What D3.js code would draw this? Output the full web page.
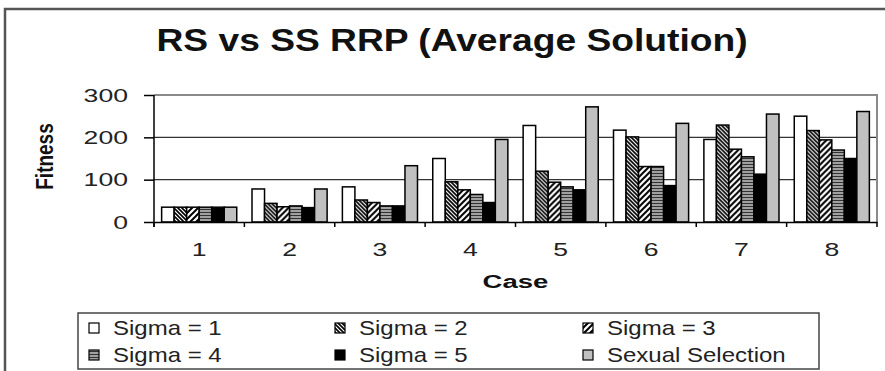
<!DOCTYPE html>
<html>
<head>
<meta charset="utf-8">
<script src="https://cdn.jsdelivr.net/npm/d3@7"></script>
<style>
  body { margin: 0; background: #fff; }
  svg { display: block; font-family: "Liberation Sans", Arial, sans-serif; }
</style>
</head>
<body>
<div id="chart"></div>
<script>
const cases = ["1", "2", "3", "4", "5", "6", "7", "8"];
const seriesNames = ["Sigma = 1", "Sigma = 2", "Sigma = 3", "Sigma = 4", "Sigma = 5", "Sexual Selection"];
const sigma1 = [35, 78, 83, 150, 228, 217, 195, 250];
const sigma2 = [35, 44, 52, 95, 120, 201, 229, 216];
const sigma3 = [35, 36, 46, 76, 94, 131, 172, 194];
const sigma4 = [35, 38, 38, 65, 83, 131, 154, 170];
const sigma5 = [35, 34, 38, 46, 76, 86, 113, 150];
const sexualSel = [35, 78, 133, 195, 272, 233, 255, 261];
const yTicks = [0, 100, 200, 300];

const W = 885, H = 371;
const plot = {left: 154, right: 877, top: 95, bottom: 222};

const series = [sigma1, sigma2, sigma3, sigma4, sigma5, sexualSel];
const fills = ["#fff", "url(#p-s2)", "url(#p-s3)", "url(#p-s4)", "#000", "#c0c0c0"];

const svg = d3.select("#chart").append("svg")
  .attr("width", W)
  .attr("height", H);

// hatch patterns
const defs = svg.append("defs");
const p2 = defs.append("pattern").attr("id", "p-s2")
  .attr("patternUnits", "userSpaceOnUse").attr("width", 4).attr("height", 4);
p2.append("rect").attr("width", 4).attr("height", 4).attr("fill", "#fff");
p2.append("path").attr("d", "M-1,-1 L5,5 M-1,3 L1,5 M3,-1 L5,1")
  .attr("stroke", "#000").attr("stroke-width", 1.6);

const p3 = defs.append("pattern").attr("id", "p-s3")
  .attr("patternUnits", "userSpaceOnUse").attr("width", 6).attr("height", 6);
p3.append("rect").attr("width", 6).attr("height", 6).attr("fill", "#fff");
p3.append("path").attr("d", "M-1,7 L7,-1 M-1,1 L1,-1 M5,7 L7,5")
  .attr("stroke", "#000").attr("stroke-width", 2);

const p4 = defs.append("pattern").attr("id", "p-s4")
  .attr("patternUnits", "userSpaceOnUse").attr("width", 4).attr("height", 3);
p4.append("rect").attr("width", 4).attr("height", 3).attr("fill", "#a0a0a0");
p4.append("rect").attr("y", 2).attr("width", 4).attr("height", 1).attr("fill", "#333");

// outer frame
svg.append("rect")
  .attr("x", 5).attr("y", 9)
  .attr("width", W + 20).attr("height", H + 20)
  .attr("fill", "#fff")
  .attr("stroke", "#555")
  .attr("stroke-width", 2.5);

// title
svg.append("text")
  .attr("transform", "translate(452,51) scale(1.2,1)")
  .attr("text-anchor", "middle")
  .attr("font-size", 31)
  .attr("font-weight", "bold")
  .attr("fill", "#111")
  .text("RS vs SS RRP (Average Solution)");

const x0 = d3.scaleBand().domain(cases).range([plot.left, plot.right]).padding(0);
const x1 = d3.scaleBand().domain(d3.range(series.length))
  .range([0, x0.bandwidth()]).paddingInner(0).paddingOuter(0.61);
const y = d3.scaleLinear().domain([0, 300]).range([plot.bottom, plot.top]);

// gridlines
svg.append("g").selectAll("line")
  .data(yTicks.filter(d => d > 0 && d < 300))
  .join("line")
  .attr("x1", plot.left).attr("x2", plot.right)
  .attr("y1", d => y(d)).attr("y2", d => y(d))
  .attr("stroke", "#333").attr("stroke-width", 1.2);

// plot area border (top, right)
svg.append("path")
  .attr("d", `M${plot.left},${y(300)} H${plot.right} V${plot.bottom}`)
  .attr("fill", "none")
  .attr("stroke", "#8a8a8a")
  .attr("stroke-width", 2);

// bars
const groups = svg.append("g").selectAll("g")
  .data(cases)
  .join("g")
  .attr("transform", d => `translate(${x0(d)},0)`);

groups.selectAll("rect")
  .data((c, i) => series.map((s, k) => ({k: k, v: s[i]})))
  .join("rect")
  .attr("x", d => x1(d.k))
  .attr("y", d => y(d.v))
  .attr("width", x1.bandwidth())
  .attr("height", d => y(0) - y(d.v))
  .attr("fill", d => fills[d.k])
  .attr("stroke", "#000")
  .attr("stroke-width", 1.5);

// y axis
const yAxis = svg.append("g")
  .attr("transform", `translate(${plot.left},0)`)
  .call(d3.axisLeft(y).tickValues(yTicks).tickSize(10).tickFormat(""));
yAxis.select(".domain").attr("d", `M0,${plot.top}V${plot.bottom + 5}`)
  .attr("stroke", "#000").attr("stroke-width", 1.5);
yAxis.selectAll(".tick line").attr("stroke", "#000").attr("stroke-width", 1.5);

svg.append("g").selectAll("text")
  .data(yTicks)
  .join("text")
  .attr("transform", d => `translate(128,${y(d) + 6.8}) scale(1.4,1)`)
  .attr("text-anchor", "end")
  .attr("font-size", 19)
  .attr("fill", "#222")
  .text(d => d);

// x axis
const xAxis = svg.append("g")
  .attr("transform", `translate(0,${plot.bottom})`)
  .call(d3.axisBottom(x0).tickSize(0).tickFormat(""));
xAxis.select(".domain").attr("stroke", "#000").attr("stroke-width", 1.5);
xAxis.selectAll(".tick").remove();
xAxis.selectAll("line.sep")
  .data(d3.range(cases.length + 1))
  .join("line")
  .attr("class", "sep")
  .attr("x1", i => plot.left + i * x0.step())
  .attr("x2", i => plot.left + i * x0.step())
  .attr("y1", 0).attr("y2", 5)
  .attr("stroke", "#000").attr("stroke-width", 1.5);

svg.append("g").selectAll("text")
  .data(cases)
  .join("text")
  .attr("transform", d => `translate(${x0(d) + x0.bandwidth() / 2},256) scale(1.4,1)`)
  .attr("text-anchor", "middle")
  .attr("font-size", 19)
  .attr("fill", "#222")
  .text(d => d);

// axis titles
svg.append("text")
  .attr("transform", `translate(${(plot.left + plot.right) / 2},288) scale(1.45,1)`)
  .attr("text-anchor", "middle")
  .attr("font-size", 19)
  .attr("font-weight", "bold")
  .attr("fill", "#111")
  .text("Case");

svg.append("text")
  .attr("transform", "translate(53,156.5) scale(1.25,1) rotate(-90)")
  .attr("text-anchor", "middle")
  .attr("font-size", 19)
  .attr("font-weight", "bold")
  .attr("fill", "#111")
  .text("Fitness");

// legend
const legend = svg.append("g");
legend.append("rect")
  .attr("x", 78).attr("y", 313)
  .attr("width", 741).attr("height", 56)
  .attr("fill", "#fff")
  .attr("stroke", "#444")
  .attr("stroke-width", 1.5);

const colX = [89, 335, 583];
const rowY = [328, 355];
const items = legend.selectAll("g.item")
  .data(seriesNames)
  .join("g")
  .attr("class", "item")
  .attr("transform", (d, i) => `translate(${colX[i % 3]},${rowY[Math.floor(i / 3)]})`);

items.append("rect")
  .attr("x", 0).attr("y", -5)
  .attr("width", 10).attr("height", 10)
  .attr("fill", (d, i) => fills[i])
  .attr("stroke", "#000")
  .attr("stroke-width", 1.2);

items.append("text")
  .attr("transform", "translate(24,7) scale(1.2,1)")
  .attr("font-size", 20)
  .attr("fill", "#222")
  .text(d => d);
</script>
</body>
</html>
